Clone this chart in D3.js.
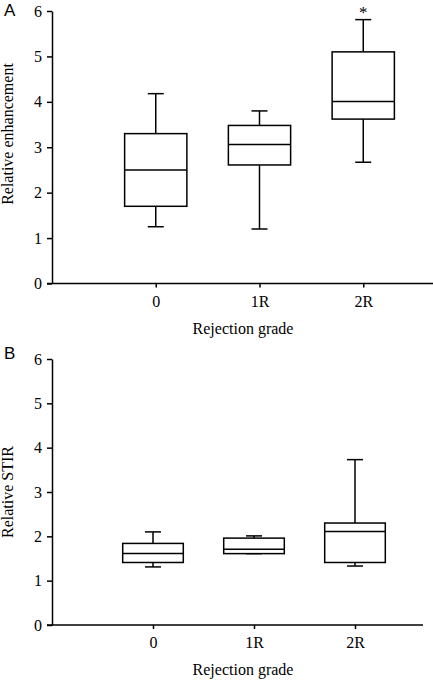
<!DOCTYPE html>
<html>
<head>
<meta charset="utf-8">
<script src="https://cdn.jsdelivr.net/npm/d3@7"></script>
<style>
  html, body { margin: 0; padding: 0; background: #fff; }
  svg { display: block; }
  text { font-family: "Liberation Serif", "Times New Roman", serif; fill: #000; }
</style>
</head>
<body>
<svg id="chart" width="433" height="680"></svg>
<script>
const categories = ["0", "1R", "2R"];
const yTicks = [0, 1, 2, 3, 4, 5, 6];

// Panel A: Relative enhancement  [min, q1, median, q3, max]
const enhMin    = [1.25, 1.20, 2.67];
const enhQ1     = [1.70, 2.61, 3.62];
const enhMedian = [2.50, 3.06, 4.01];
const enhQ3     = [3.30, 3.48, 5.10];
const enhMax    = [4.18, 3.80, 5.81];
const enhMarks  = ["", "", "*"];

// Panel B: Relative STIR
const stirMin    = [1.31, 1.61, 1.33];
const stirQ1     = [1.41, 1.61, 1.41];
const stirMedian = [1.61, 1.71, 2.11];
const stirQ3     = [1.84, 1.96, 2.30];
const stirMax    = [2.10, 2.01, 3.73];
const stirMarks  = ["", "", ""];

const svg = d3.select("#chart");

function panel(cfg) {
  const g = svg.append("g");
  const y = d3.scaleLinear().domain([0, 6]).range([cfg.bottom, cfg.top]);
  const x = d3.scalePoint().domain(categories).range([cfg.left, cfg.xEnd]).padding(1);
  const step = x.step();
  const boxW = step * 0.6;
  const capW = 16;

  const rows = categories.map((c, i) => ({
    c, min: cfg.min[i], q1: cfg.q1[i], med: cfg.med[i], q3: cfg.q3[i], max: cfg.max[i], mark: cfg.marks[i]
  }));

  // y axis
  const yAxis = g.append("g")
    .attr("transform", `translate(${cfg.left},0)`)
    .call(d3.axisLeft(y).tickValues(yTicks).tickFormat(d3.format("d")).tickSize(5).tickSizeOuter(0).tickPadding(5));
  yAxis.select(".domain").attr("stroke", "#000").attr("stroke-width", 1.5);
  yAxis.selectAll(".tick line").attr("stroke", "#000").attr("stroke-width", 1.5);
  yAxis.selectAll(".tick text").style("font-family", '"Liberation Serif", "Times New Roman", serif').style("font-size", "16px").attr("fill", "#000");

  // x axis
  const xAxis = g.append("g")
    .attr("transform", `translate(0,${cfg.bottom})`)
    .call(d3.axisBottom(x).tickSize(4).tickSizeOuter(0).tickPadding(8));
  xAxis.select(".domain").attr("d", `M${cfg.left - 5},0H${cfg.axisEnd}`).attr("stroke", "#000").attr("stroke-width", 1.5);
  xAxis.selectAll(".tick line").attr("stroke", "#000").attr("stroke-width", 1.5);
  xAxis.selectAll(".tick text").style("font-family", '"Liberation Serif", "Times New Roman", serif').style("font-size", "16px").attr("fill", "#000");

  // boxes
  const bx = g.append("g").selectAll("g").data(rows).join("g");
  bx.append("line")
    .attr("x1", d => x(d.c)).attr("x2", d => x(d.c))
    .attr("y1", d => y(d.max)).attr("y2", d => y(d.q3))
    .attr("stroke", "#000").attr("stroke-width", 1.5);
  bx.append("line")
    .attr("x1", d => x(d.c)).attr("x2", d => x(d.c))
    .attr("y1", d => y(d.q1)).attr("y2", d => y(d.min))
    .attr("stroke", "#000").attr("stroke-width", 1.5);
  bx.append("line")
    .attr("x1", d => x(d.c) - capW / 2).attr("x2", d => x(d.c) + capW / 2)
    .attr("y1", d => y(d.max)).attr("y2", d => y(d.max))
    .attr("stroke", "#000").attr("stroke-width", 1.5);
  bx.append("line")
    .attr("x1", d => x(d.c) - capW / 2).attr("x2", d => x(d.c) + capW / 2)
    .attr("y1", d => y(d.min)).attr("y2", d => y(d.min))
    .attr("stroke", "#000").attr("stroke-width", 1.5);
  bx.append("rect")
    .attr("x", d => x(d.c) - boxW / 2).attr("width", boxW)
    .attr("y", d => y(d.q3)).attr("height", d => y(d.q1) - y(d.q3))
    .attr("fill", "#fff").attr("stroke", "#000").attr("stroke-width", 1.5);
  bx.append("line")
    .attr("x1", d => x(d.c) - boxW / 2).attr("x2", d => x(d.c) + boxW / 2)
    .attr("y1", d => y(d.med)).attr("y2", d => y(d.med))
    .attr("stroke", "#000").attr("stroke-width", 1.5);
  bx.append("text")
    .attr("x", d => x(d.c)).attr("y", d => y(d.max) - 2)
    .attr("text-anchor", "middle")
    .style("font-size", "17px")
    .text(d => d.mark);

  // axis titles
  g.append("text")
    .attr("transform", `translate(13,${cfg.titleY}) rotate(-90)`)
    .attr("text-anchor", "middle")
    .style("font-size", "16px")
    .text(cfg.yTitle);
  g.append("text")
    .attr("x", 243).attr("y", cfg.bottom + 50)
    .attr("text-anchor", "middle")
    .style("font-size", "16px")
    .text("Rejection grade");

  // panel letter
  g.append("text")
    .attr("x", 4).attr("y", cfg.letterY)
    .style("font-family", '"Liberation Sans", Arial, sans-serif')
    .style("font-size", "17px")
    .text(cfg.letter);
}

panel({
  top: 11, bottom: 283.5, left: 52, xEnd: 467, axisEnd: 433,
  min: enhMin, q1: enhQ1, med: enhMedian, q3: enhQ3, max: enhMax, marks: enhMarks,
  yTitle: "Relative enhancement", titleY: 134, letter: "A", letterY: 16
});
panel({
  top: 359, bottom: 625, left: 52, xEnd: 456, axisEnd: 423,
  min: stirMin, q1: stirQ1, med: stirMedian, q3: stirQ3, max: stirMax, marks: stirMarks,
  yTitle: "Relative STIR", titleY: 492, letter: "B", letterY: 359
});
</script>
</body>
</html>
